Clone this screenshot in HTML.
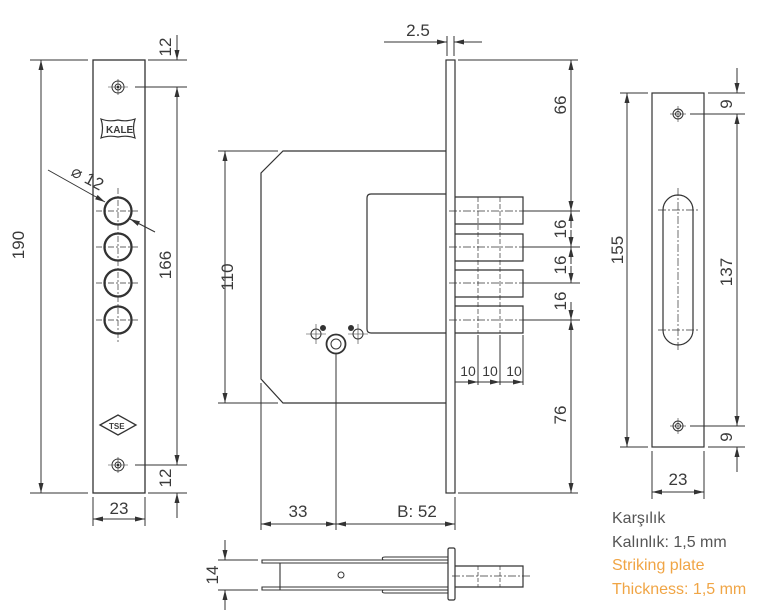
<!DOCTYPE html>
<html><head><meta charset="utf-8"><style>
body{margin:0;background:#fff}
svg{display:block}
text{font-family:"Liberation Sans",sans-serif;fill:#3a3a3a}
</style></head><body>
<svg width="782" height="613" viewBox="0 0 782 613" xmlns="http://www.w3.org/2000/svg">
<defs>
<marker id="a" viewBox="0 0 10 6" refX="10" refY="3" markerWidth="10" markerHeight="6" orient="auto-start-reverse" markerUnits="userSpaceOnUse"><path d="M0,0.5L10,3L0,5.5z" fill="#333"/></marker>
</defs>
<g stroke="#333" stroke-width="1" fill="none">
<rect x="93" y="60" width="52" height="433" stroke-width="1.3"/>
<circle cx="118" cy="87" r="6"/><circle cx="118" cy="87" r="3"/><circle cx="118" cy="87" r="0.8" fill="#333"/>
<line x1="108" y1="87" x2="128" y2="87" stroke-width=".6"/><line x1="118" y1="79" x2="118" y2="95" stroke-width=".6"/>
<circle cx="118" cy="465" r="6"/><circle cx="118" cy="465" r="3"/><circle cx="118" cy="465" r="0.8" fill="#333"/>
<line x1="108" y1="465" x2="128" y2="465" stroke-width=".6"/><line x1="118" y1="457" x2="118" y2="473" stroke-width=".6"/>
<path d="M101,119 Q109,122 118,120 Q127,122 135,119 Q132,128 135,138 Q127,135 118,137 Q109,135 101,138 Q104,128 101,119z" stroke-width="1.2"/>
<g stroke-width="2.3">
<circle cx="118" cy="211" r="13.5"/><circle cx="118" cy="247" r="13.5"/><circle cx="118" cy="283" r="13.5"/><circle cx="118" cy="320" r="13.5"/>
</g>
<g stroke-width=".7" stroke-dasharray="6,2,2,2">
<line x1="118" y1="188" x2="118" y2="342"/>
<line x1="96" y1="211" x2="140" y2="211"/><line x1="96" y1="247" x2="140" y2="247"/><line x1="96" y1="283" x2="140" y2="283"/><line x1="96" y1="320" x2="140" y2="320"/>
</g>
<path d="M100,425 L118,415 L136,425 L118,435z" stroke-width="1.3"/>
<line x1="30" y1="60" x2="88" y2="60"/><line x1="30" y1="493" x2="88" y2="493"/>
<line x1="41" y1="60" x2="41" y2="493" marker-start="url(#a)" marker-end="url(#a)"/>
<line x1="148" y1="60" x2="187" y2="60"/><line x1="135" y1="87" x2="187" y2="87"/>
<line x1="135" y1="465" x2="187" y2="465"/><line x1="148" y1="493" x2="187" y2="493"/>
<line x1="177" y1="35" x2="177" y2="60" marker-end="url(#a)"/>
<line x1="177" y1="87" x2="177" y2="465" marker-start="url(#a)" marker-end="url(#a)"/>
<line x1="177" y1="518" x2="177" y2="493" marker-end="url(#a)"/>
<line x1="93" y1="497" x2="93" y2="526"/><line x1="145" y1="497" x2="145" y2="526"/>
<line x1="93" y1="519" x2="145" y2="519" marker-start="url(#a)" marker-end="url(#a)"/>
<line x1="48" y1="170" x2="105" y2="202" marker-end="url(#a)"/>
<line x1="155" y1="232" x2="130" y2="219" marker-end="url(#a)"/>

<rect x="446" y="60" width="9" height="433" stroke-width="1.2"/>
<path d="M446,151 L283,151 L261,173 L261,379 L283,403 L446,403" stroke-width="1.2"/>
<path d="M446,194 L371,194 Q367,194 367,198 L367,329 Q367,333 371,333 L446,333" stroke-width="1.2"/>
<g stroke-width="1.2">
<path d="M455,197 L523,197 L523,224 L455,224"/>
<path d="M455,234 L523,234 L523,261 L455,261"/>
<path d="M455,270 L523,270 L523,297 L455,297"/>
<path d="M455,306 L523,306 L523,333 L455,333"/>
</g>
<g stroke-width=".7" stroke-dasharray="5,2">
<line x1="478" y1="197" x2="478" y2="333"/><line x1="500" y1="197" x2="500" y2="333"/>
</g>
<g stroke-width=".7" stroke-dasharray="8,2,2,2">
<line x1="449" y1="211" x2="530" y2="211"/><line x1="449" y1="247" x2="530" y2="247"/><line x1="449" y1="283" x2="530" y2="283"/><line x1="449" y1="320" x2="530" y2="320"/>
</g>
<line x1="523" y1="211" x2="580" y2="211"/><line x1="523" y1="247" x2="580" y2="247"/><line x1="523" y1="283" x2="580" y2="283"/><line x1="523" y1="320" x2="580" y2="320"/>
<line x1="458" y1="60" x2="578" y2="60"/><line x1="458" y1="493" x2="578" y2="493"/>
<line x1="571" y1="60" x2="571" y2="211" marker-start="url(#a)" marker-end="url(#a)"/>
<line x1="571" y1="228" x2="571" y2="211" marker-end="url(#a)"/>
<line x1="571" y1="230" x2="571" y2="247" marker-end="url(#a)"/>
<line x1="571" y1="264" x2="571" y2="247" marker-end="url(#a)"/>
<line x1="571" y1="266" x2="571" y2="283" marker-end="url(#a)"/>
<line x1="571" y1="302" x2="571" y2="320" marker-end="url(#a)"/>
<line x1="571" y1="320" x2="571" y2="493" marker-start="url(#a)" marker-end="url(#a)"/>
<line x1="478" y1="335" x2="478" y2="385"/><line x1="500" y1="335" x2="500" y2="385"/><line x1="523" y1="335" x2="523" y2="385"/>
<line x1="455" y1="382" x2="478" y2="382" marker-end="url(#a)"/>
<line x1="478" y1="382" x2="500" y2="382" marker-end="url(#a)"/>
<line x1="500" y1="382" x2="523" y2="382" marker-end="url(#a)"/>
<line x1="447" y1="36" x2="447" y2="56"/><line x1="454" y1="36" x2="454" y2="56"/>
<line x1="384" y1="42" x2="447" y2="42" marker-end="url(#a)"/>
<line x1="482" y1="42" x2="454" y2="42" marker-end="url(#a)"/>
<line x1="218" y1="151" x2="278" y2="151"/><line x1="218" y1="403" x2="278" y2="403"/>
<line x1="225" y1="151" x2="225" y2="403" marker-start="url(#a)" marker-end="url(#a)"/>
<circle cx="336" cy="344" r="9.5" stroke-width="1.8"/><circle cx="336" cy="344" r="5"/>
<circle cx="316" cy="334" r="5"/><circle cx="358" cy="334" r="5"/>
<circle cx="323" cy="328" r="2.5" fill="#333"/><circle cx="351" cy="328" r="2.5" fill="#333"/>
<line x1="306" y1="334" x2="326" y2="334" stroke-width=".6"/><line x1="316" y1="324" x2="316" y2="344" stroke-width=".6"/>
<line x1="348" y1="334" x2="368" y2="334" stroke-width=".6"/><line x1="358" y1="324" x2="358" y2="344" stroke-width=".6"/>
<line x1="336" y1="354" x2="336" y2="530"/>
<line x1="261" y1="383" x2="261" y2="530"/><line x1="455" y1="497" x2="455" y2="530"/>
<line x1="261" y1="524" x2="336" y2="524" marker-start="url(#a)" marker-end="url(#a)"/>
<line x1="336" y1="524" x2="455" y2="524" marker-start="url(#a)" marker-end="url(#a)"/>
<path d="M280,560 L262,560 L262,563 L280,563 M280,587 L262,587 L262,590 L280,590" stroke-width="1.1"/>
<path d="M280,560 L448,560 M280,563 L280,590 M280,563 L448,563 M280,590 L448,590 M280,587 L448,587" stroke-width="1.1"/>
<path d="M383,560 Q381,557 385,557 L448,557 M383,590 Q381,593 385,593 L448,593" stroke-width="1.1"/>
<rect x="448" y="548" width="7" height="52" rx="1.5" stroke-width="1.2"/>
<path d="M455,566 L523,566 L523,587 L455,587" stroke-width="1.2"/>
<line x1="478" y1="566" x2="478" y2="587" stroke-dasharray="4,2" stroke-width=".7"/><line x1="500" y1="566" x2="500" y2="587" stroke-dasharray="4,2" stroke-width=".7"/>
<line x1="452" y1="576" x2="530" y2="576" stroke-dasharray="8,2,2,2" stroke-width=".7"/>
<circle cx="341" cy="575" r="3"/>
<line x1="218" y1="560" x2="258" y2="560"/><line x1="218" y1="590" x2="258" y2="590"/>
<line x1="225" y1="540" x2="225" y2="560" marker-end="url(#a)"/>
<line x1="225" y1="610" x2="225" y2="590" marker-end="url(#a)"/>
<rect x="652" y="93" width="52" height="354" stroke-width="1.2"/>
<circle cx="678" cy="114" r="5"/><circle cx="678" cy="114" r="2.5"/>
<circle cx="678" cy="426" r="5"/><circle cx="678" cy="426" r="2.5"/>
<line x1="670" y1="114" x2="686" y2="114" stroke-width=".6"/><line x1="678" y1="106" x2="678" y2="122" stroke-width=".6"/>
<line x1="670" y1="426" x2="686" y2="426" stroke-width=".6"/><line x1="678" y1="418" x2="678" y2="434" stroke-width=".6"/>
<path d="M663,210 A15,15 0 0 1 693,210 L693,330 A15,15 0 0 1 663,330 Z" stroke-width="1.2"/>
<g stroke-width=".7" stroke-dasharray="8,2,2,2">
<line x1="678" y1="188" x2="678" y2="352"/><line x1="658" y1="210" x2="698" y2="210"/><line x1="658" y1="330" x2="698" y2="330"/>
</g>
<line x1="620" y1="93" x2="648" y2="93"/><line x1="620" y1="447" x2="648" y2="447"/>
<line x1="627" y1="93" x2="627" y2="447" marker-start="url(#a)" marker-end="url(#a)"/>
<line x1="708" y1="93" x2="745" y2="93"/><line x1="690" y1="114" x2="745" y2="114"/>
<line x1="690" y1="426" x2="745" y2="426"/><line x1="708" y1="447" x2="745" y2="447"/>
<line x1="737" y1="68" x2="737" y2="93" marker-end="url(#a)"/>
<line x1="737" y1="114" x2="737" y2="426" marker-start="url(#a)" marker-end="url(#a)"/>
<line x1="737" y1="472" x2="737" y2="447" marker-end="url(#a)"/>
<line x1="652" y1="451" x2="652" y2="499"/><line x1="704" y1="451" x2="704" y2="499"/>
<line x1="652" y1="492" x2="704" y2="492" marker-start="url(#a)" marker-end="url(#a)"/>
</g>
<g font-size="17">
<text x="24" y="245" text-anchor="middle" transform="rotate(-90 24 245)">190</text>
<text x="171" y="265" text-anchor="middle" transform="rotate(-90 171 265)">166</text>
<text x="171" y="47" text-anchor="middle" transform="rotate(-90 171 47)">12</text>
<text x="171" y="478" text-anchor="middle" transform="rotate(-90 171 478)">12</text>
<text x="119" y="514" text-anchor="middle">23</text>
<text x="70" y="175" transform="rotate(28 70 175)">⌀ 12</text>
<text x="418" y="36" text-anchor="middle">2.5</text>
<text x="233" y="277" text-anchor="middle" transform="rotate(-90 233 277)">110</text>
<text x="566" y="105" text-anchor="middle" transform="rotate(-90 566 105)">66</text>
<text x="566" y="229" text-anchor="middle" transform="rotate(-90 566 229)">16</text>
<text x="566" y="265" text-anchor="middle" transform="rotate(-90 566 265)">16</text>
<text x="566" y="301" text-anchor="middle" transform="rotate(-90 566 301)">16</text>
<text x="566" y="415" text-anchor="middle" transform="rotate(-90 566 415)">76</text>
<text x="298" y="517" text-anchor="middle">33</text>
<text x="417" y="517" text-anchor="middle">B: 52</text>
<text x="218" y="575" text-anchor="middle" transform="rotate(-90 218 575)">14</text>
<text x="623" y="250" text-anchor="middle" transform="rotate(-90 623 250)">155</text>
<text x="732" y="272" text-anchor="middle" transform="rotate(-90 732 272)">137</text>
<text x="732" y="104" text-anchor="middle" transform="rotate(-90 732 104)">9</text>
<text x="732" y="437" text-anchor="middle" transform="rotate(-90 732 437)">9</text>
<text x="678" y="485" text-anchor="middle">23</text>
<text x="468" y="376" font-size="14" text-anchor="middle">10</text>
<text x="490" y="376" font-size="14" text-anchor="middle">10</text>
<text x="514" y="376" font-size="14" text-anchor="middle">10</text>
</g>
<text x="106" y="133" font-size="10" font-weight="bold">KALE</text>
<text x="109" y="429" font-size="8" font-weight="bold">TSE</text>
<g font-size="16">
<text x="612" y="523" style="fill:#555">Karşılık</text>
<text x="612" y="547" style="fill:#555">Kalınlık: 1,5 mm</text>
<text x="612" y="570" style="fill:#f0a545">Striking plate</text>
<text x="612" y="594" style="fill:#f0a545">Thickness: 1,5 mm</text>
</g>
</svg>
</body></html>
